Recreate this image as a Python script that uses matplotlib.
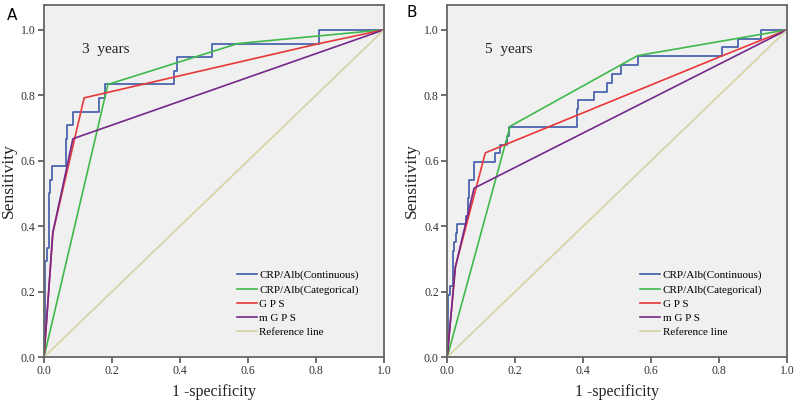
import matplotlib
matplotlib.use("Agg")
import matplotlib.pyplot as plt

# ROC data (x = 1 - specificity, y = sensitivity)

# 3 years
a_cont_fpr = [0.0, 0.0, 0.003, 0.008, 0.015, 0.019, 0.024, 0.065, 0.069, 0.086,
              0.162, 0.180, 0.383, 0.390, 0.494, 0.809, 1.0]
a_cont_tpr = [0.0, 0.083, 0.292, 0.333, 0.500, 0.542, 0.583, 0.667, 0.708, 0.750,
              0.792, 0.833, 0.875, 0.917, 0.958, 1.0, 1.0]
a_cat_fpr = [0.0, 0.188, 0.570, 1.0]
a_cat_tpr = [0.0, 0.833, 0.958, 1.0]
a_gps_fpr = [0.0, 0.026, 0.118, 0.810, 1.0]
a_gps_tpr = [0.0, 0.380, 0.792, 0.958, 1.0]
a_mgps_fpr = [0.0, 0.026, 0.085, 1.0]
a_mgps_tpr = [0.0, 0.380, 0.667, 1.0]

# 5 years
b_cont_fpr = [0.0, 0.002, 0.007, 0.016, 0.020, 0.025, 0.029, 0.055, 0.062, 0.065,
              0.079, 0.140, 0.155, 0.177, 0.182, 0.381, 0.384, 0.433, 0.470, 0.486,
              0.511, 0.560, 0.808, 0.854, 0.923, 1.0]
b_cont_tpr = [0.0, 0.189, 0.216, 0.324, 0.351, 0.378, 0.405, 0.432, 0.486, 0.541,
              0.595, 0.622, 0.649, 0.676, 0.703, 0.757, 0.784, 0.811, 0.838, 0.865,
              0.892, 0.919, 0.946, 0.973, 1.0, 1.0]
b_cat_fpr = [0.0, 0.185, 0.560, 1.0]
b_cat_tpr = [0.0, 0.705, 0.921, 1.0]
b_gps_fpr = [0.0, 0.024, 0.112, 0.810, 1.0]
b_gps_tpr = [0.0, 0.275, 0.624, 0.921, 1.0]
b_mgps_fpr = [0.0, 0.024, 0.079, 1.0]
b_mgps_tpr = [0.0, 0.275, 0.516, 1.0]

ref_line = [0.0, 1.0]

labels = ["CRP/Alb(Continuous)", "CRP/Alb(Categorical)", "G P S", "m G P S", "Reference line"]
colors = ["#3e5ba8", "#3fb94a", "#e8383a", "#74288a", "#d6d3a2"]

serif = ["Liberation Serif", "DejaVu Serif"]
plt.rcParams["font.family"] = serif


def draw_panel(ax, cont, cat, gps, mgps, period):
    ax.set_facecolor("#f0f0f0")
    ax.plot(cont[0], cont[1], drawstyle="steps-post", color=colors[0], lw=1.2, label=labels[0])
    ax.plot(cat[0], cat[1], color=colors[1], lw=1.2, label=labels[1])
    ax.plot(gps[0], gps[1], color=colors[2], lw=1.2, label=labels[2])
    ax.plot(mgps[0], mgps[1], color=colors[3], lw=1.2, label=labels[3])
    ax.plot(ref_line, ref_line, color=colors[4], lw=1.2, label=labels[4])

    ax.set_xlim(0, 1)
    ax.set_ylim(0, 1.076)
    ax.set_xticks([0, 0.2, 0.4, 0.6, 0.8, 1.0])
    ax.set_yticks([0, 0.2, 0.4, 0.6, 0.8, 1.0])
    ax.set_xticklabels(["0.0", "0.2", "0.4", "0.6", "0.8", "1.0"])
    ax.set_yticklabels(["0.0", "0.2", "0.4", "0.6", "0.8", "1.0"])
    ax.tick_params(direction="out", length=4, width=1.2, color="#555555",
                   labelsize=8.5, labelcolor="#333333", pad=2)
    for s in ax.spines.values():
        s.set_color("#666666")
        s.set_linewidth(1.3)

    ax.set_xlabel("1 -specificity", fontsize=11.5, color="#222222", labelpad=5)
    ax.set_ylabel("Sensitivity", fontsize=12.5, color="#222222", labelpad=3)
    ax.text(0.112, 0.94, period, fontsize=11, color="#222222", va="center")

    ax.legend(loc="lower left", bbox_to_anchor=(0.55, 0.04), frameon=False,
              fontsize=8, handlelength=1.8, handletextpad=0.25, labelspacing=0.4,
              borderpad=0)


fig = plt.figure(figsize=(8, 4.01), dpi=100)
ax1 = fig.add_axes([0.055, 0.1097, 0.425, 0.878])
ax2 = fig.add_axes([0.559, 0.1097, 0.425, 0.878])

draw_panel(ax1, (a_cont_fpr, a_cont_tpr), (a_cat_fpr, a_cat_tpr),
           (a_gps_fpr, a_gps_tpr), (a_mgps_fpr, a_mgps_tpr), "3  years")
draw_panel(ax2, (b_cont_fpr, b_cont_tpr), (b_cat_fpr, b_cat_tpr),
           (b_gps_fpr, b_gps_tpr), (b_mgps_fpr, b_mgps_tpr), "5  years")

fig.text(0.008, 0.962, "A", fontsize=11, family="DejaVu Sans", va="center")
fig.text(0.508, 0.97, "B", fontsize=11, family="DejaVu Sans", va="center")

fig.savefig("out.png", dpi=100)
